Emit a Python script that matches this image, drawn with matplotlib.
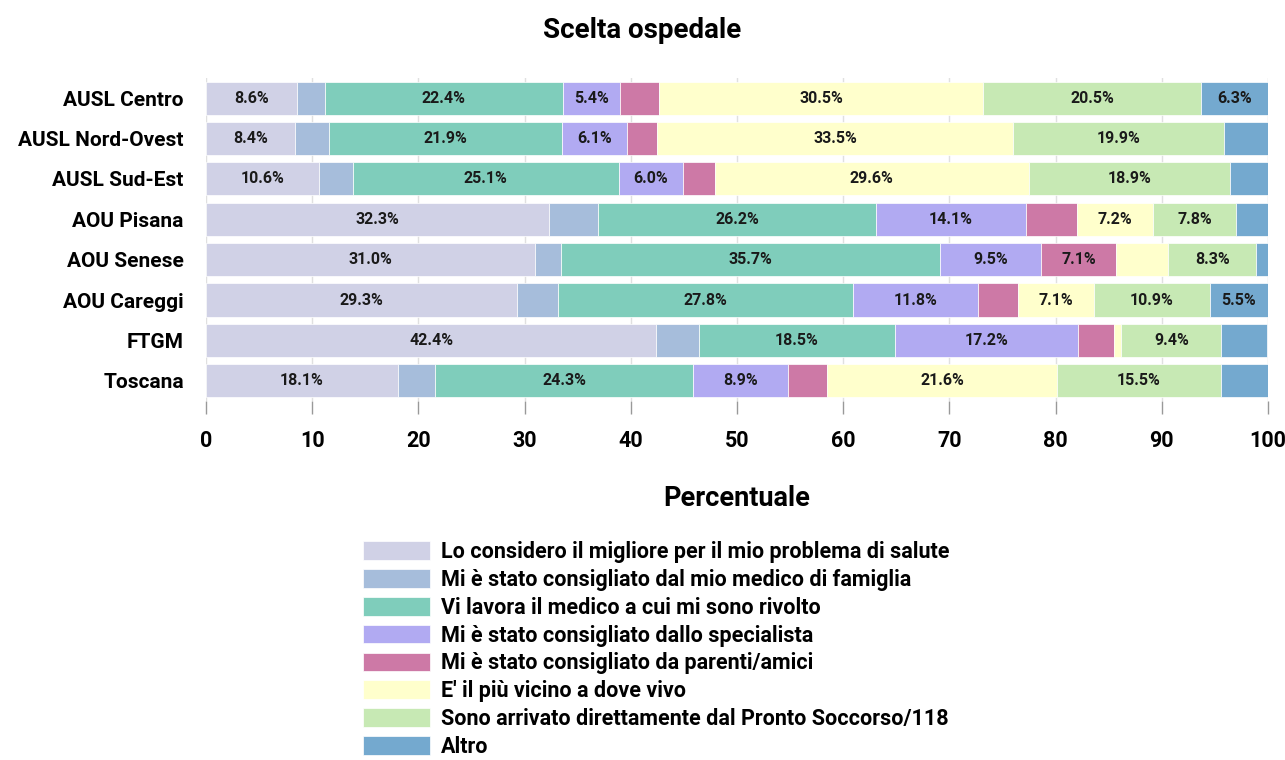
import numpy as np
import matplotlib
matplotlib.use("Agg")
import matplotlib.pyplot as plt

plt.rcParams['font.family'] = ['Roboto', 'DejaVu Sans']
plt.rcParams['font.weight'] = 'bold'

# Data (percentages)
aziende = ["AUSL Centro", "AUSL Nord-Ovest", "AUSL Sud-Est", "AOU Pisana",
           "AOU Senese", "AOU Careggi", "FTGM", "Toscana"]

motivi = [
    "Lo considero il migliore per il mio problema di salute",
    "Mi è stato consigliato dal mio medico di famiglia",
    "Vi lavora il medico a cui mi sono rivolto",
    "Mi è stato consigliato dallo specialista",
    "Mi è stato consigliato da parenti/amici",
    "E' il più vicino a dove vivo",
    "Sono arrivato direttamente dal Pronto Soccorso/118",
    "Altro",
]

migliore     = [8.6, 8.4, 10.6, 32.3, 31.0, 29.3, 42.4, 18.1]
medico_fam   = [2.6, 3.2, 3.2, 4.6, 2.4, 3.8, 4.0, 3.5]
medico       = [22.4, 21.9, 25.1, 26.2, 35.7, 27.8, 18.5, 24.3]
specialista  = [5.4, 6.1, 6.0, 14.1, 9.5, 11.8, 17.2, 8.9]
parenti      = [3.7, 2.9, 3.0, 4.8, 7.1, 3.8, 3.4, 3.7]
vicino       = [30.5, 33.5, 29.6, 7.2, 4.9, 7.1, 0.7, 21.6]
pronto_socc  = [20.5, 19.9, 18.9, 7.8, 8.3, 10.9, 9.4, 15.5]
altro        = [6.3, 4.1, 3.6, 3.0, 1.1, 5.5, 4.3, 4.4]

serie = [migliore, medico_fam, medico, specialista, parenti, vicino, pronto_socc, altro]
colori = ["#d0d1e6", "#a6bddb", "#7fcdbb", "#b1aaf2", "#cd79a6",
          "#ffffcc", "#c7e9b4", "#74a9cf"]

fig = plt.figure(figsize=(12.85, 7.6), dpi=100)
ax = fig.add_axes([0.1603, 0.4724, 0.8265, 0.425])

y = np.arange(len(aziende))
left = np.zeros(len(aziende))
for vals, col, lab in zip(serie, colori, motivi):
    vals = np.array(vals)
    bars = ax.barh(y, vals, left=left, height=0.82, color=col, label=lab,
                   edgecolor="white", linewidth=0.5, zorder=2)
    for b, v in zip(bars, vals):
        if v >= 5:
            ax.text(b.get_x() + b.get_width() / 2, b.get_y() + b.get_height() / 2,
                    f"{v:.1f}%", ha="center", va="center", fontsize=11.5,
                    fontweight="bold", color="#1a1a1a", zorder=3)
    left += vals

ax.set_xlim(0, 100)
ax.set_ylim(len(aziende) - 0.5, -0.5)
ax.set_yticks(y)
ax.set_yticklabels(aziende, fontsize=15, fontweight="bold")
ax.tick_params(axis="y", length=0, pad=16)
ax.set_xticks(np.arange(0, 101, 10))
ax.tick_params(axis="x", length=9, width=1, color="#999999", labelsize=15.5, pad=12)
for lbl in ax.get_xticklabels():
    lbl.set_fontweight("bold")
ax.xaxis.grid(True, color="#e0e0e0", linewidth=1, zorder=0)
ax.set_axisbelow(True)
for s in ax.spines.values():
    s.set_visible(False)

ax.set_xlabel("Percentuale", fontsize=19.5, fontweight="bold", labelpad=24)
fig.text(0.5, 1 - 30 / 760, "Scelta ospedale", fontsize=20, fontweight="bold",
         ha="center", va="center")

fig.legend(loc="upper left", bbox_to_anchor=(0.2825, 0.2880), frameon=False,
           handlelength=3.1, handleheight=0.95, labelspacing=0.27,
           handletextpad=0.5, borderpad=0, borderaxespad=0,
           prop={"weight": "bold", "size": 15.5})

fig.savefig("out.png", dpi=100)
